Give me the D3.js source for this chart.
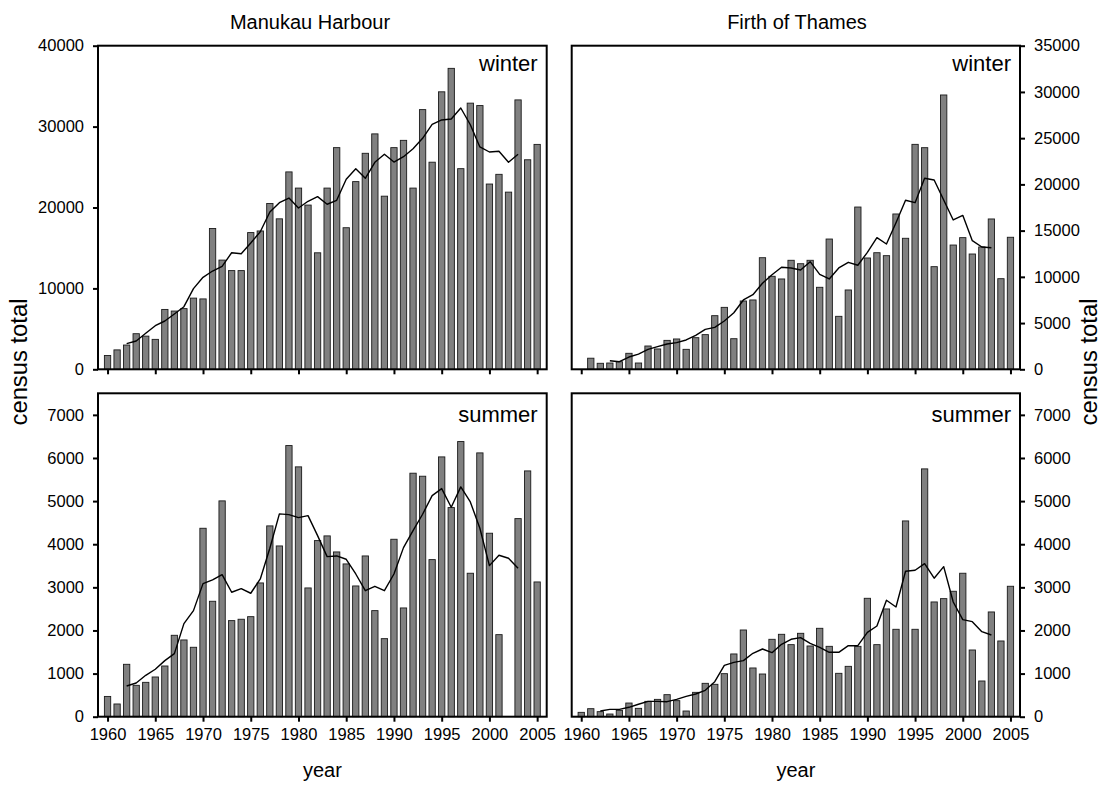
<!DOCTYPE html>
<html>
<head>
<meta charset="utf-8">
<script src="https://cdn.jsdelivr.net/npm/d3@7"></script>
<style>
  html, body { margin: 0; padding: 0; background: #fff; }
  svg { display: block; font-family: "Liberation Sans", Arial, sans-serif; }
</style>
</head>
<body>
<svg id="chart" width="1101" height="785"></svg>
<script>
// Annual census counts, 1960–2005
const years = d3.range(1960, 2006);

const manukauWinter = [1700, 2400, 3000, 4400, 4100, 3700, 7400, 7200, 7500, 8800,
  8700, 17400, 13500, 12200, 12200, 16900, 17100, 20500, 18600, 24400,
  22400, 20300, 14400, 22400, 27400, 17500, 23200, 26700, 29100, 21400,
  27400, 28300, 22400, 32100, 25600, 34300, 37200, 24800, 32900, 32600,
  22900, 24100, 21900, 33300, 25900, 27800];

const thamesWinter = [null, 1200, 650, 680, 820, 1730, 680, 2520, 2200, 3130,
  3280, 2160, 3420, 3750, 5800, 6700, 3310, 7390, 7500, 12070,
  10060, 9770, 11790, 11420, 11790, 8870, 14090, 5730, 8580, 17550,
  12040, 12610, 12290, 16800, 14170, 24330, 23970, 11100, 29670, 13440,
  14240, 12470, 13230, 16260, 9800, 14280];

const manukauSummer = [470, 295, 1215, 728, 797, 921, 1176, 1888, 1780, 1610,
  4370, 2677, 5005, 2228, 2260, 2320, 3102, 4425, 3960, 6288,
  5794, 2986, 4084, 4193, 3821, 3543, 3032, 3728, 2460, 1810,
  4115, 2522, 5647, 5577, 3643, 6025, 4850, 6381, 3327, 6118,
  4255, 1903, null, 4594, 5700, 3125];

const thamesSummer = [101, 186, 117, 62, 147, 317, 194, 356, 402, 511,
  372, 132, 565, 774, 751, 998, 1455, 2011, 1130, 990,
  1795, 1911, 1671, 1934, 1640, 2050, 1632, 1006, 1168, 1632,
  2746, 1671, 2499, 2027, 4540, 2027, 5747, 2661, 2738, 2909,
  3327, 1547, 828, 2429, 1756, 3025];

// Running means (centred), each with its first year
const manukauWinterMeanStart = 1962;
const manukauWinterMean = [3170, 3500, 4450, 5390, 5970, 6840, 7740, 9970, 11370, 12150,
  12730, 14410, 14290, 15610, 17010, 19440, 20600, 21170, 19940, 20770,
  21340, 20400, 20890, 23490, 24800, 23610, 25590, 26580, 25620, 26280,
  27270, 28550, 30280, 30820, 30940, 32300, 30230, 27480, 26860, 26950,
  25590, 26580];

const thamesWinterMeanStart = 1963;
const thamesWinterMean = [930, 820, 1330, 1650, 2160, 2450, 2740, 2880, 3170, 3670,
  4320, 4540, 5220, 6120, 7500, 8070, 9300, 10230, 11030, 10960,
  10740, 11640, 10270, 9770, 10960, 11570, 11250, 12650, 14240, 13550,
  15860, 18280, 18020, 20660, 20470, 18310, 16150, 16650, 13910, 13230,
  13150];

const manukauSummerMeanStart = 1962;
const manukauSummerMean = [712, 782, 960, 1100, 1300, 1462, 2158, 2460, 3086, 3172,
  3295, 2886, 2970, 2863, 3195, 3907, 4703, 4687, 4617, 4664,
  4200, 3712, 3728, 3651, 3310, 2923, 3025, 2923, 3310, 3921,
  4316, 4695, 5128, 5290, 4858, 5329, 4981, 4370, 3503, 3744,
  3674, 3442];

const thamesSummerMeanStart = 1962;
const thamesSummerMean = [132, 171, 171, 218, 288, 356, 356, 348, 402, 472,
  526, 611, 812, 1192, 1261, 1300, 1470, 1570, 1485, 1679,
  1795, 1834, 1702, 1609, 1493, 1493, 1647, 1647, 1957, 2104,
  2700, 2545, 3373, 3396, 3550, 3211, 3480, 2661, 2250, 2204,
  1972, 1895];

const siteNames = ["Manukau Harbour", "Firth of Thames"];
const seasonNames = ["winter", "summer"];
const xTickYears = d3.range(1960, 2006, 5);
const winterTicksManukau = d3.range(0, 40001, 10000);
const winterTicksThames = d3.range(0, 35001, 5000);
const summerTicks = d3.range(0, 7001, 1000);

const svg = d3.select("#chart");

const colX = [[98, 546.7], [571.7, 1020]];
const rowY = [[45.7, 369.3], [393.3, 716.7]];
const titleX = [310, 797];

const panels = [
  { col: 0, row: 0, bars: manukauWinter, mean: manukauWinterMean, meanStart: manukauWinterMeanStart, max: 40000, ticks: winterTicksManukau, side: "left" },
  { col: 1, row: 0, bars: thamesWinter, mean: thamesWinterMean, meanStart: thamesWinterMeanStart, max: 35000, ticks: winterTicksThames, side: "right" },
  { col: 0, row: 1, bars: manukauSummer, mean: manukauSummerMean, meanStart: manukauSummerMeanStart, max: 7500, ticks: summerTicks, side: "left" },
  { col: 1, row: 1, bars: thamesSummer, mean: thamesSummerMean, meanStart: thamesSummerMeanStart, max: 7500, ticks: summerTicks, side: "right" }
];

const tickFont = 16.5;

panels.forEach(p => {
  const [x0, x1] = colX[p.col];
  const [y0, y1] = rowY[p.row];
  const x = d3.scaleLinear().domain([1959, 2006]).range([x0, x1]);
  const y = d3.scaleLinear().domain([0, p.max]).range([y1, y0]);
  const step = x(1961) - x(1960);
  const bw = step * 0.66;

  const g = svg.append("g");

  // bars
  g.append("g").selectAll("rect")
    .data(years.map((yr, i) => ({ yr, v: p.bars[i] })).filter(d => d.v != null))
    .join("rect")
    .attr("x", d => x(d.yr) - bw / 2)
    .attr("y", d => y(d.v))
    .attr("width", bw)
    .attr("height", d => y(0) - y(d.v))
    .attr("fill", "#808080")
    .attr("stroke", "#1a1a1a")
    .attr("stroke-width", 0.9);

  // running mean line
  const line = d3.line().x(d => x(d.yr)).y(d => y(d.v));
  g.append("path")
    .datum(p.mean.map((v, i) => ({ yr: p.meanStart + i, v })))
    .attr("d", line)
    .attr("fill", "none")
    .attr("stroke", "#000")
    .attr("stroke-width", 1.4)
    .attr("stroke-linejoin", "round");

  // frame
  g.append("rect")
    .attr("x", x0).attr("y", y0)
    .attr("width", x1 - x0).attr("height", y1 - y0)
    .attr("fill", "none").attr("stroke", "#000").attr("stroke-width", 2);

  // x axis
  const xAxis = d3.axisBottom(x).tickValues(xTickYears).tickSize(5).tickPadding(7)
    .tickFormat(p.row === 1 ? d3.format("d") : () => "");
  const gx = g.append("g").attr("transform", `translate(0,${y1})`).call(xAxis);
  gx.select(".domain").remove();
  gx.selectAll("line").attr("stroke-width", 2);
  gx.selectAll("text").attr("font-size", tickFont).attr("fill", "#000")
    .attr("font-family", "Liberation Sans, Arial, sans-serif");

  // y axis
  const yAxis = (p.side === "left" ? d3.axisLeft(y) : d3.axisRight(y))
    .tickValues(p.ticks).tickSize(5).tickPadding(9).tickFormat(d3.format("d"));
  const gy = g.append("g").attr("transform", `translate(${p.side === "left" ? x0 : x1},0)`).call(yAxis);
  gy.select(".domain").remove();
  gy.selectAll("line").attr("stroke-width", 2);
  gy.selectAll("text").attr("font-size", tickFont).attr("fill", "#000")
    .attr("font-family", "Liberation Sans, Arial, sans-serif");

  // season label
  g.append("text")
    .attr("x", x1 - 9)
    .attr("y", y0 + (p.row === 0 ? 25 : 28.4))
    .attr("text-anchor", "end")
    .attr("font-size", 22)
    .text(seasonNames[p.row]);
});

// site titles and x axis titles
siteNames.forEach((name, c) => {
  svg.append("text")
    .attr("x", titleX[c])
    .attr("y", 29)
    .attr("text-anchor", "middle")
    .attr("font-size", 20)
    .text(name);

  svg.append("text")
    .attr("x", (colX[c][0] + colX[c][1]) / 2)
    .attr("y", 777)
    .attr("text-anchor", "middle")
    .attr("font-size", 20)
    .text("year");
});

// y axis titles
const midY = 362;
[27, 1097].forEach(tx => {
  svg.append("text")
    .attr("transform", `translate(${tx},${midY}) rotate(-90)`)
    .attr("text-anchor", "middle")
    .attr("font-size", 23)
    .attr("textLength", 127)
    .attr("lengthAdjust", "spacingAndGlyphs")
    .text("census total");
});
</script>
</body>
</html>
